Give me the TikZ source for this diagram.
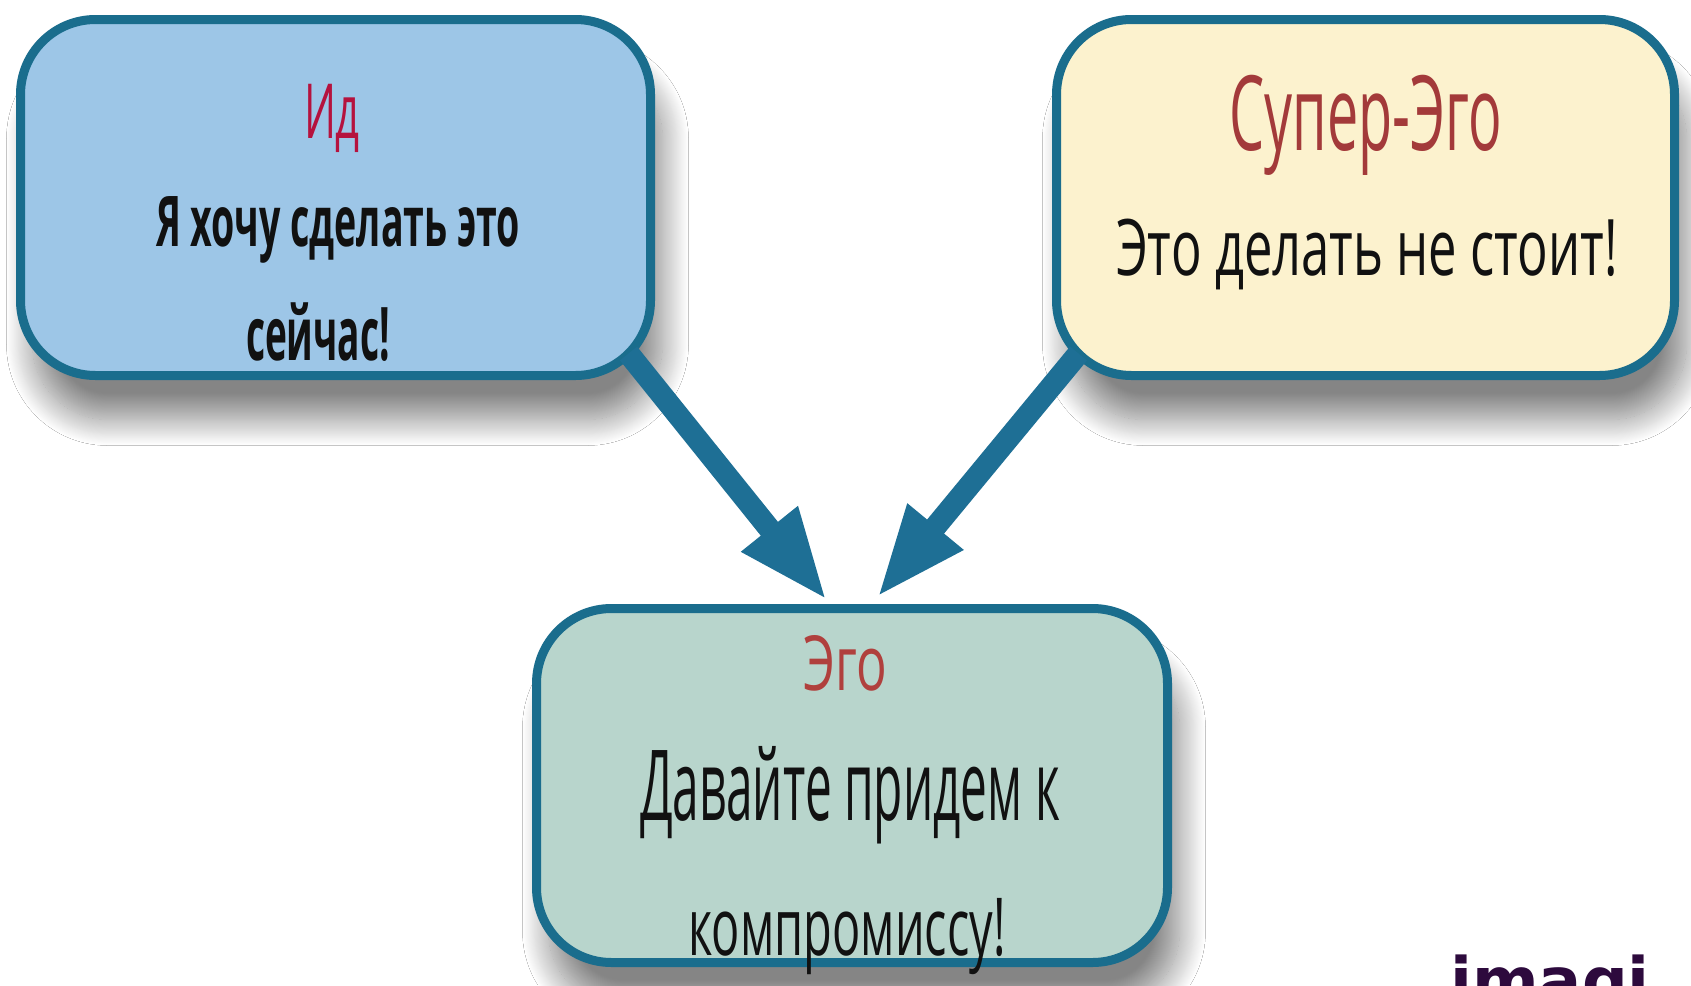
\documentclass[tikz,border=0pt]{standalone}
\usepackage{graphicx}
\usepackage{fontspec}
\setmainfont{Open Sans}
\newfontfamily\logofont{DejaVu Sans}
\usetikzlibrary{arrows.meta,shadows.blur,calc}
\definecolor{bord}{HTML}{1A6D8D}
\definecolor{arrowc}{HTML}{1E6F95}
\definecolor{idfill}{HTML}{9DC6E7}
\definecolor{sdfill}{HTML}{FCF2CE}
\definecolor{egofill}{HTML}{B8D5CC}
\definecolor{idc}{HTML}{B5123E}
\definecolor{sdc}{HTML}{A33A3A}
\definecolor{egoc}{HTML}{B0403D}
\definecolor{logoc}{HTML}{2D0A3D}
\definecolor{txt}{HTML}{111111}
\newcommand\sqz[2]{\resizebox{#1}{\height}{#2}}
\tikzset{
  box/.style={draw=bord, line width=9pt, rounded corners=75pt, outer sep=0pt, inner sep=0pt,
    blur shadow={shadow xshift=12pt, shadow yshift=-44pt, shadow blur radius=26pt,
      shadow opacity=48, shadow blur steps=30}},
  ttl/.style={anchor=base, inner sep=0pt, text=txt},
  link/.style={draw=arrowc, line width=22pt, -{Triangle[length=92pt,width=66pt]}}
}
\begin{document}
\begin{tikzpicture}[x=1pt,y=-1pt]
\useasboundingbox (0,0) rectangle (1691,985);
\clip (0,0) rectangle (1691,985);
\fill[white] (0,0) rectangle (1691,985);
% boxes
\node[box, fill=idfill, minimum width=630pt, minimum height=356pt] (id) at (335.5,197.5) {};
\node[box, fill=sdfill, minimum width=618pt, minimum height=356pt] (sd) at (1365.5,197.5) {};
\node[box, fill=egofill, minimum width=631pt, minimum height=354pt] (ego) at (852,785.5) {};
% texts
\node[ttl, text=idc] (idtitle) at (332,138) {\sqz{56pt}{\fontsize{76}{76}\selectfont Ид}};
\node[ttl] (idl1) at (338,246) {\sqz{364pt}{\fontsize{70}{70}\selectfont\bfseries Я хочу сделать это}};
\node[ttl] (idl2) at (318,360) {\sqz{144pt}{\fontsize{74}{74}\selectfont\bfseries сейчас!}};
\node[ttl, text=sdc] (sdtitle) at (1366,150) {\sqz{273pt}{\fontsize{104}{104}\selectfont Супер-Эго}};
\node[ttl] (sdl1) at (1367,275) {\sqz{502pt}{\fontsize{78}{78}\selectfont Это делать не стоит!}};
\node[ttl, text=egoc] (egotitle) at (845,690) {\sqz{84pt}{\fontsize{76}{76}\selectfont Эго}};
\node[ttl] (egol1) at (850,820) {\sqz{420pt}{\fontsize{98}{98}\selectfont Давайте придем к}};
\node[ttl] (egol2) at (847,955) {\sqz{317pt}{\fontsize{80}{80}\selectfont компромиссу!}};
% arrows
\draw[link] ($(id.south east)+(-22,-22)$) -- ($(ego.north)+(-25,-8)$);
\draw[link] ($(sd.south west)+(22,-22)$) -- ($(ego.north)+(25,-11)$);
% logo fragment
\node[anchor=base west, inner sep=0pt, text=logoc] (logo) at (1450,1003)
  {\logofont\bfseries\fontsize{64}{64}\selectfont imagi};
\end{tikzpicture}
\end{document}
